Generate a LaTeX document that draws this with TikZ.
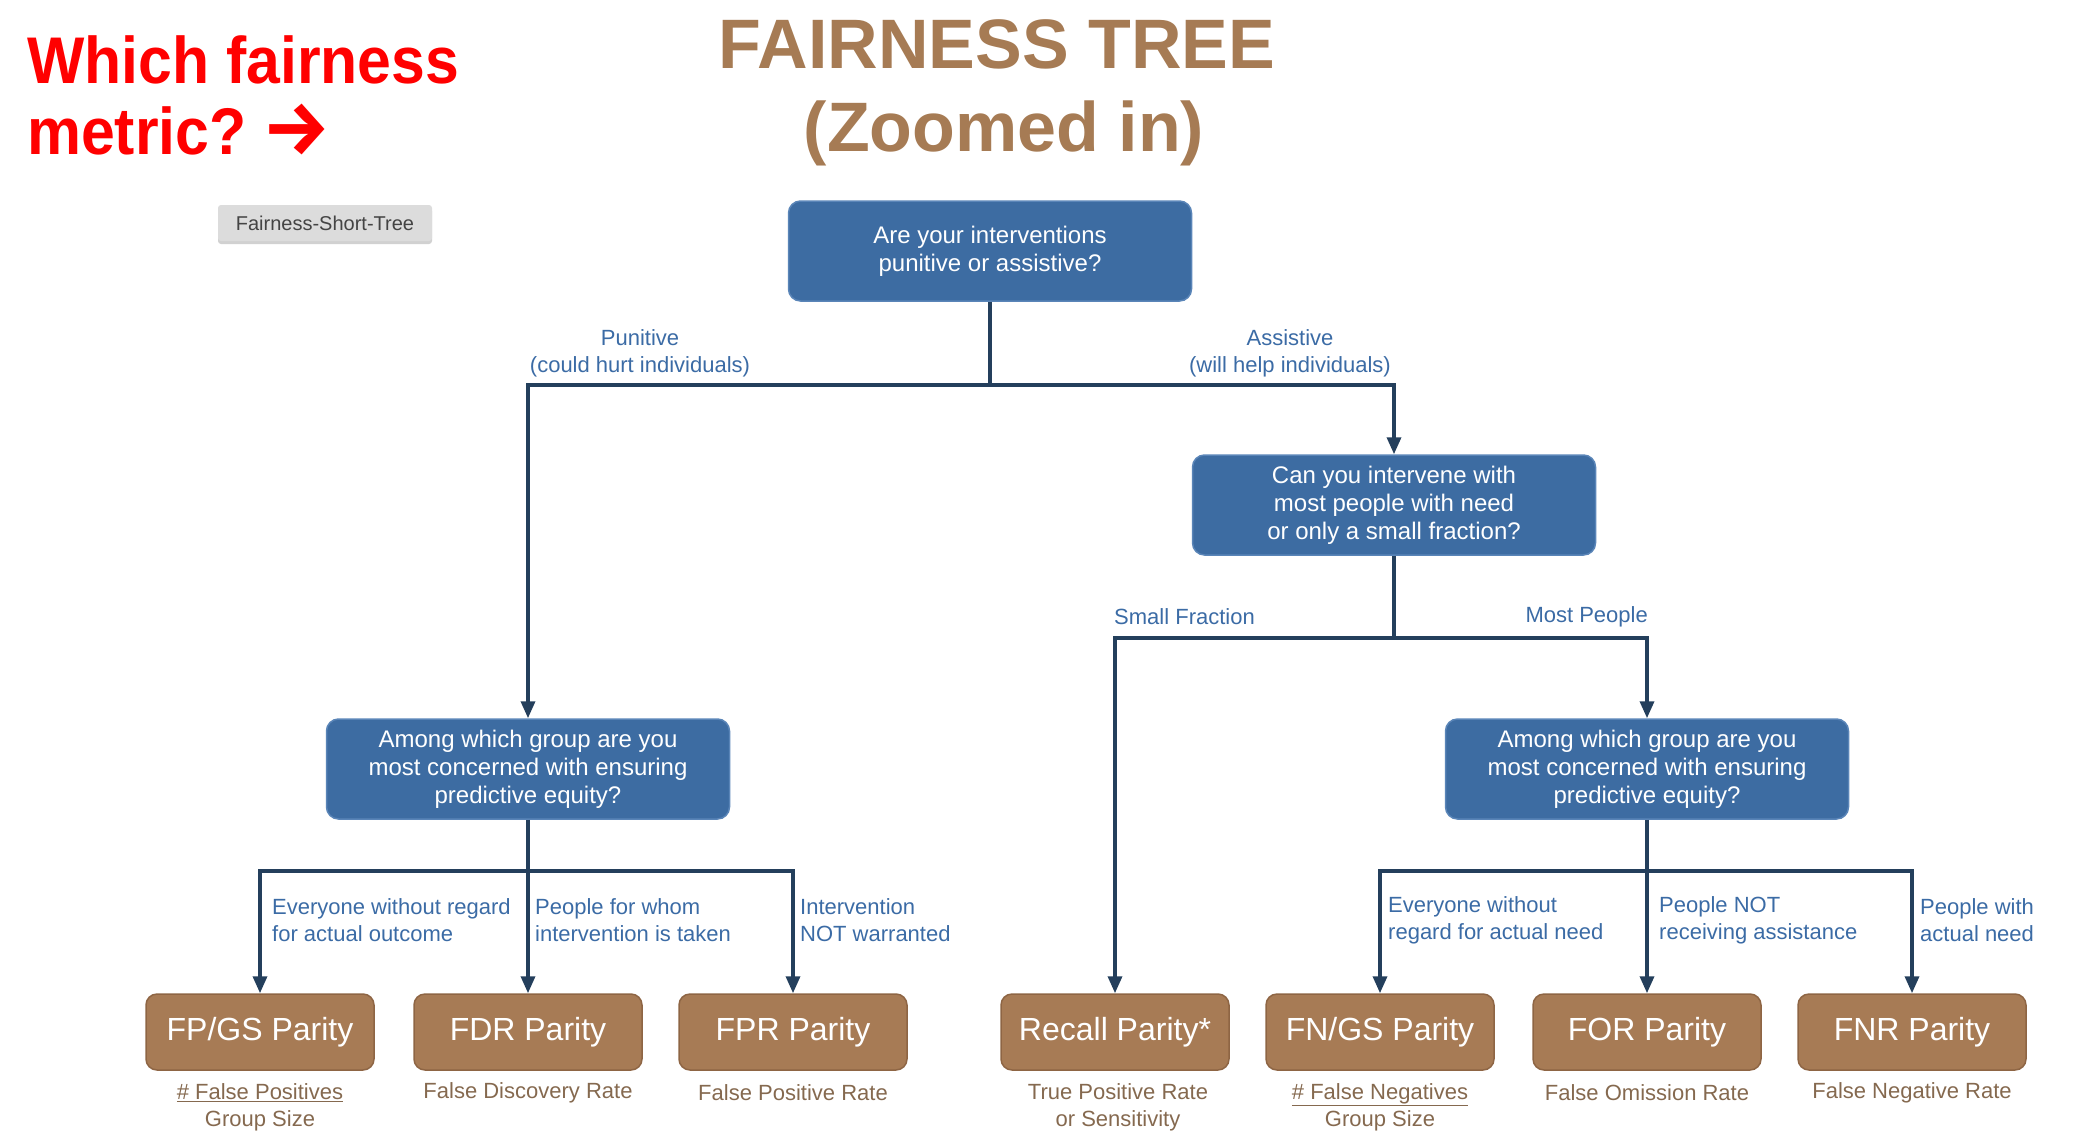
\documentclass[tikz,border=0pt]{standalone}
\usepackage{fontspec}
\setmainfont{Liberation Sans}
\newfontfamily\headfont[FakeStretch=0.92]{Liberation Sans}
\newfontfamily\arrowfont{Fira Sans}
\usetikzlibrary{arrows.meta,shadows}

\definecolor{qblue}{HTML}{3D6CA2}
\definecolor{qedge}{HTML}{5A85B8}
\definecolor{mbrown}{HTML}{A77B55}
\definecolor{medge}{HTML}{8E6544}
\definecolor{tbrown}{HTML}{A67B54}
\definecolor{navy}{HTML}{243F5C}
\definecolor{lblue}{HTML}{3B6BA5}
\definecolor{subc}{HTML}{85694F}
\definecolor{tagfill}{HTML}{DCDCDC}
\definecolor{tagtext}{HTML}{444444}

\tikzset{
  qbox/.style={rectangle, rounded corners=12pt, fill=qblue, draw=qedge, line width=1.5pt,
    minimum width=403pt, minimum height=100pt, text=white, align=center,
    font=\fontsize{24}{28}\selectfont},
  mbox/.style={rectangle, rounded corners=11pt, fill=mbrown, draw=medge, line width=1.5pt,
    minimum width=228pt, minimum height=76pt, text=white, align=center,
    font=\fontsize{32}{36}\selectfont},
  link/.style={draw=navy, line width=3.5pt},
  arr/.style={link, -{Triangle[length=17pt,width=14pt]}},
  lbl/.style={text=lblue, inner sep=0pt, font=\fontsize{22}{27}\selectfont},
  sublbl/.style={text=subc, inner sep=0pt, align=center, font=\fontsize{22}{27}\selectfont},
  tagbox/.style={rectangle, rounded corners=3pt, fill=tagfill, text=tagtext,
    minimum width=214pt, minimum height=36pt, font=\fontsize{20}{24}\selectfont,
    drop shadow={shadow xshift=0pt, shadow yshift=-3pt, opacity=0.18, fill=black}},
  head/.style={anchor=base west, inner sep=0pt, text=red,
    font=\headfont\bfseries\fontsize{66}{72}\selectfont},
  ttl/.style={anchor=base, inner sep=0pt, text=tbrown,
    font=\bfseries\fontsize{70}{80}\selectfont},
}

\begin{document}
\begin{tikzpicture}[x=1pt,y=-1pt]
\useasboundingbox (0,0) rectangle (2098,1132);

% headline and title
\node[head] (ask1) at (27,83) {Which fairness};
\node[head] (ask2) at (27,154) {metric?\hspace{16pt}{\arrowfont\fontsize{76}{80}\selectfont →}};
\node[ttl] (title1) at (997,68) {FAIRNESS TREE};
\node[ttl] (title2) at (1004,151) {(Zoomed in)};
\node[tagbox] (tag) at (325,223) {Fairness-Short-Tree};

% question boxes
\node[qbox] (q1) at (990,251) {Are your interventions\\punitive or assistive?};
\node[qbox] (q2) at (1394,505) {Can you intervene with\\most people with need\\or only a small fraction?};
\node[qbox] (q3) at (528,769) {Among which group are you\\most concerned with ensuring\\predictive equity?};
\node[qbox] (q4) at (1647,769) {Among which group are you\\most concerned with ensuring\\predictive equity?};

% metric boxes
\node[mbox] (m1) at (260,1032) {FP/GS Parity};
\node[mbox] (m2) at (528,1032) {FDR Parity};
\node[mbox] (m3) at (793,1032) {FPR Parity};
\node[mbox] (m4) at (1115,1032) {Recall Parity*};
\node[mbox] (m5) at (1380,1032) {FN/GS Parity};
\node[mbox] (m6) at (1647,1032) {FOR Parity};
\node[mbox] (m7) at (1912,1032) {FNR Parity};

% junctions
\coordinate (j1) at (990,385);
\coordinate (j2) at (1394,638);
\coordinate (j3) at (528,871);
\coordinate (j4) at (1647,871);

% connectors
\draw[link] (q1.south) -- (j1);
\draw[arr] (j1) -| (q3.north);
\draw[arr] (j1) -| (q2.north);

\draw[link] (q2.south) -- (j2);
\draw[arr] (j2) -| (m4.north);
\draw[arr] (j2) -| (q4.north);

\draw[link] (q3.south) -- (j3);
\draw[arr] (j3) -| (m1.north);
\draw[arr] (j3) -- (m2.north);
\draw[arr] (j3) -| (m3.north);

\draw[link] (q4.south) -- (j4);
\draw[arr] (j4) -| (m5.north);
\draw[arr] (j4) -- (m6.north);
\draw[arr] (j4) -| (m7.north);

% branch labels
\node[lbl, align=center] (lpun) at (640,353) {Punitive\\(could hurt individuals)};
\node[lbl, align=center] (lass) at (1290,353) {Assistive\\(will help individuals)};
\node[lbl, anchor=west] (lsmall) at (1114,617) {Small Fraction};
\node[lbl, anchor=east] (lmost) at (1648,617) {Most People};

\node[lbl, anchor=west, align=left] (l1) at (272,920) {Everyone without regard\\for actual outcome};
\node[lbl, anchor=west, align=left] (l2) at (535,920) {People for whom\\intervention is taken};
\node[lbl, anchor=west, align=left] (l3) at (800,920) {Intervention\\NOT warranted};
\node[lbl, anchor=west, align=left] (l5) at (1388,920) {Everyone without\\regard for actual need};
\node[lbl, anchor=west, align=left] (l6) at (1659,920) {People NOT\\receiving assistance};
\node[lbl, anchor=west, align=left] (l7) at (1920,920) {People with\\actual need};

% metric descriptions
\node[sublbl] (s1) at (260,1107) {\underline{\# False Positives}\\Group Size};
\node[sublbl] (s2) at (528,1093) {False Discovery Rate};
\node[sublbl] (s3) at (793,1093) {False Positive Rate};
\node[sublbl] (s4) at (1118,1107) {True Positive Rate\\or Sensitivity};
\node[sublbl] (s5) at (1380,1107) {\underline{\# False Negatives}\\Group Size};
\node[sublbl] (s6) at (1647,1093) {False Omission Rate};
\node[sublbl] (s7) at (1912,1093) {False Negative Rate};
\end{tikzpicture}
\end{document}
